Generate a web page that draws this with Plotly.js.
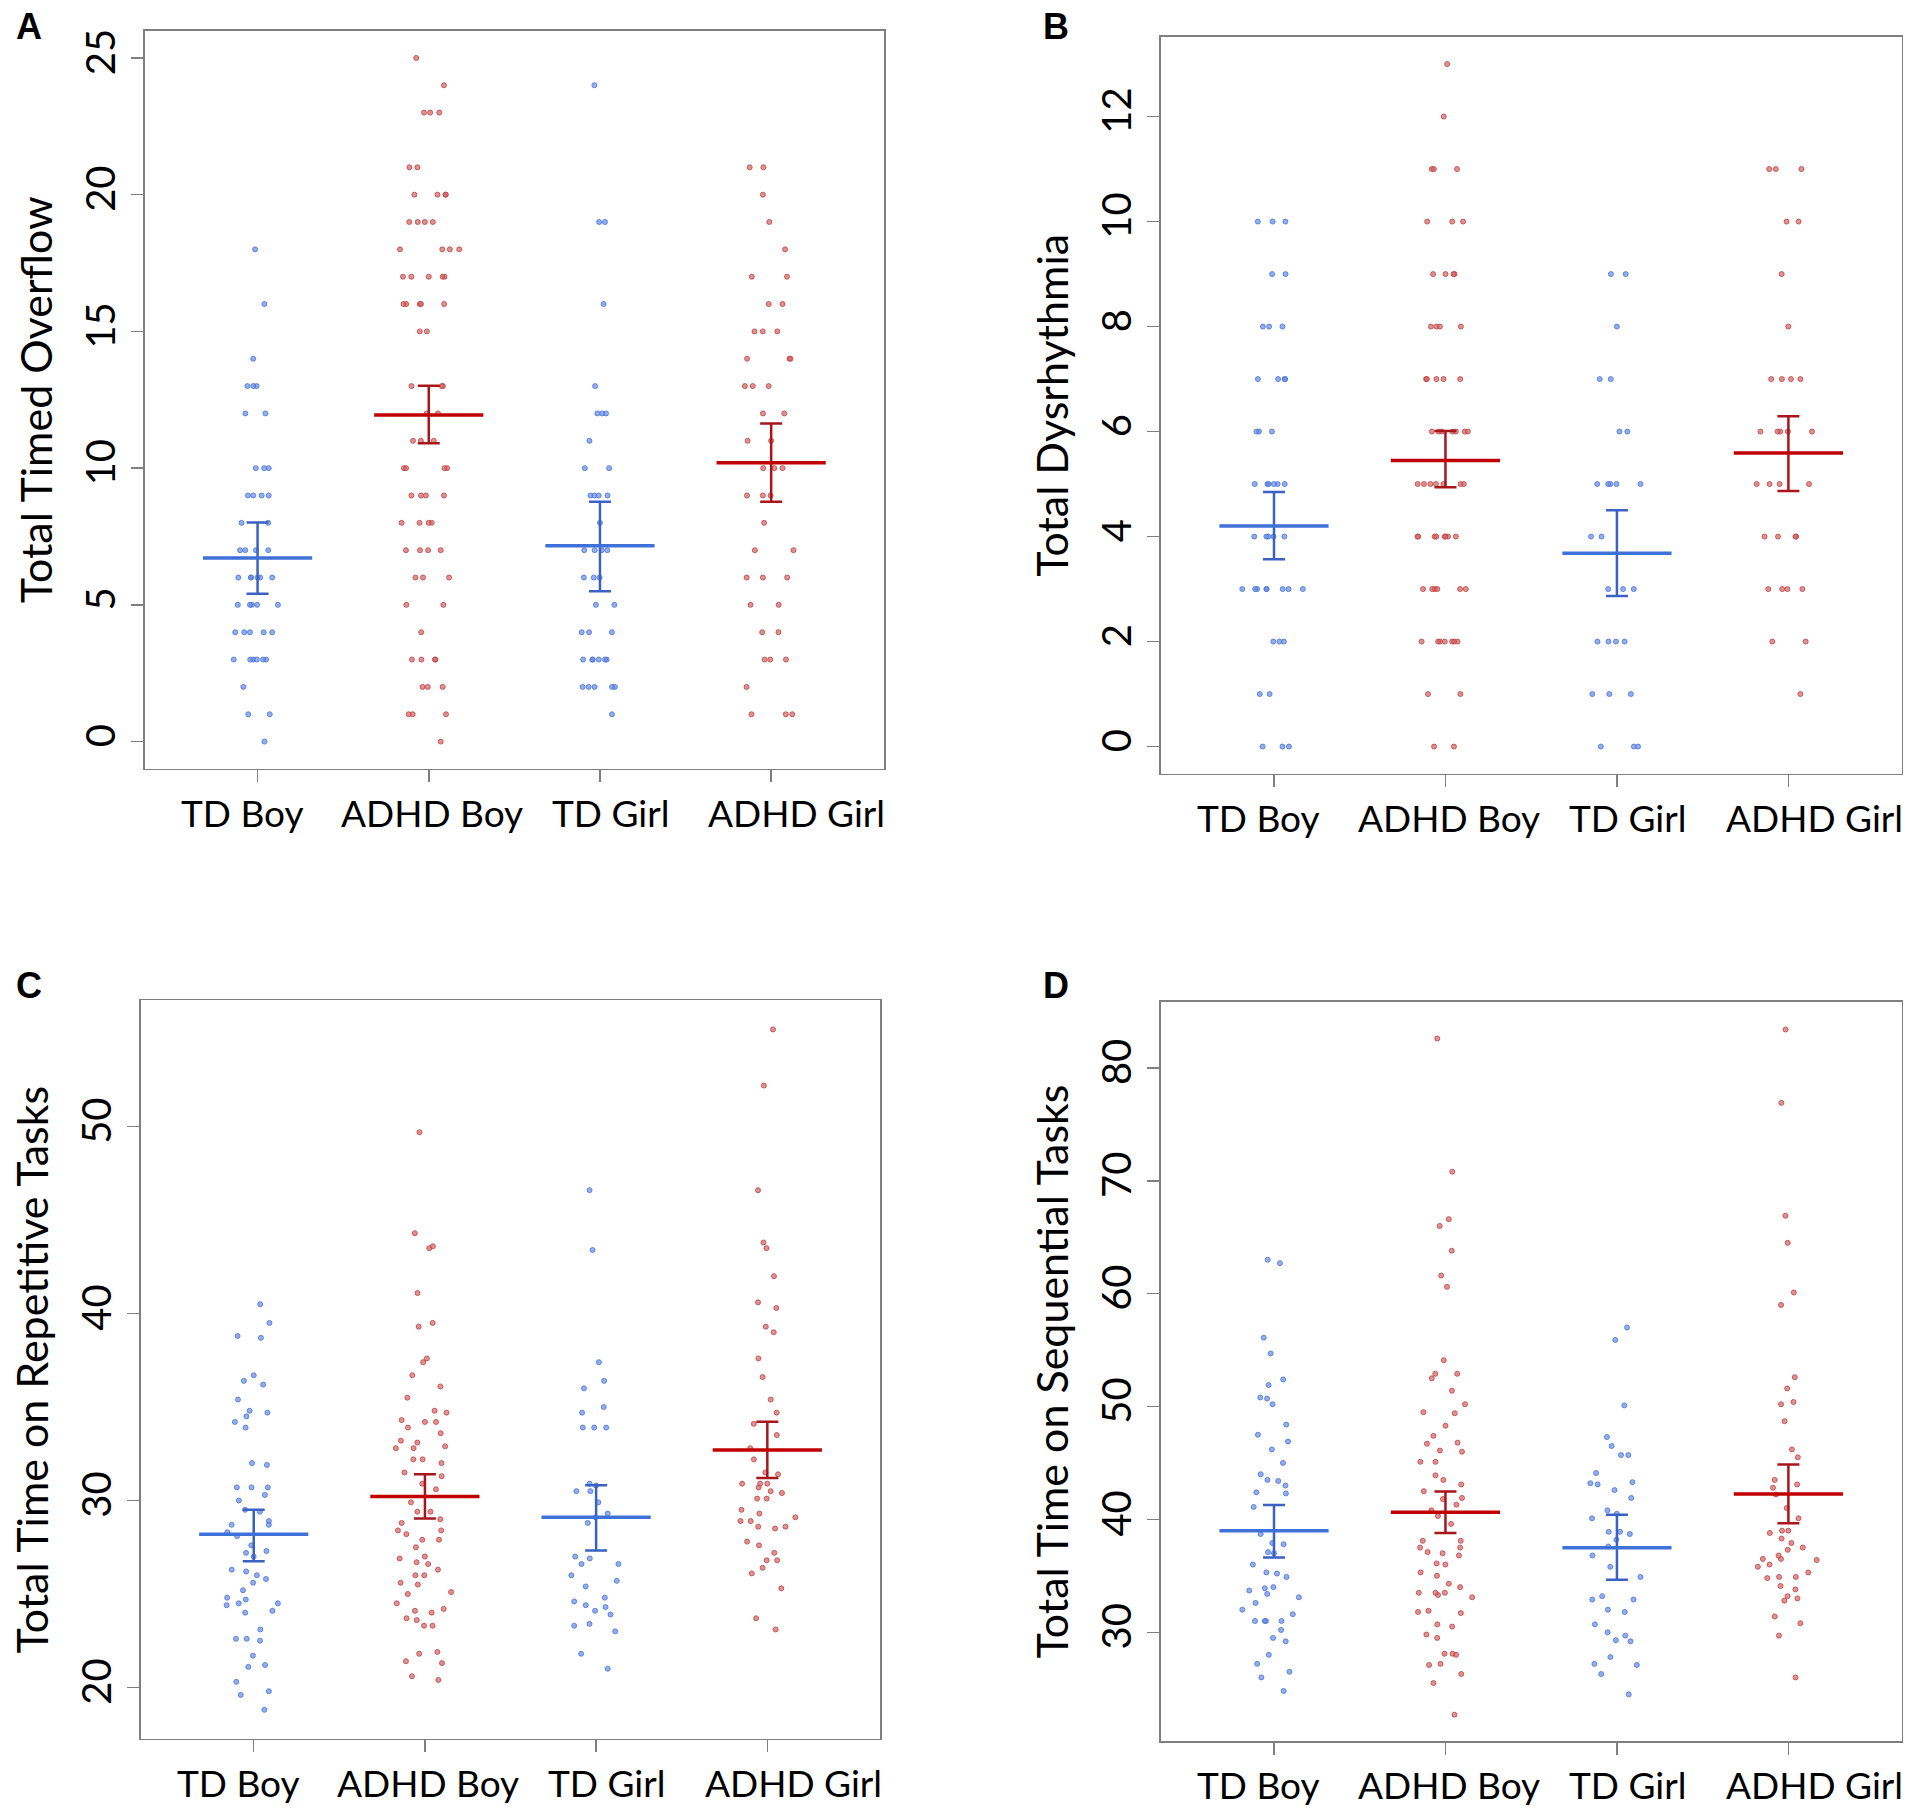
<!DOCTYPE html>
<html><head><meta charset="utf-8">
<script src="https://cdn.plot.ly/plotly-3.0.1.min.js"></script>
<style>html,body{margin:0;padding:0;background:#fff}</style>
</head><body>
<div id="chart" style="width:1920px;height:1820px"></div>
<script>
const groups = ['TD Boy', 'ADHD Boy', 'TD Girl', 'ADHD Girl'];

// Panel A: Total Timed Overflow
const aTdBoy = [18,16,14,13,13,13,12,12,10,10,10,9,9,9,9,8,8,7,7,7,7,6,6,6,6,6,6,5,5,5,5,5,4,4,4,4,4,3,3,3,3,3,3,2,1,1,0];
const aAdhdBoy = [25,24,23,23,23,21,21,20,20,20,20,19,19,19,19,18,18,18,18,17,17,17,17,17,16,16,16,16,16,15,15,13,13,13,12,12,11,11,11,10,10,10,10,9,9,9,9,8,8,8,8,7,7,7,7,6,6,6,5,5,4,3,3,3,3,2,2,2,1,1,1,0];
const aTdGirl = [24,19,19,16,13,12,12,12,11,10,10,9,9,9,9,8,7,7,7,7,6,6,6,5,5,4,4,4,3,3,3,3,3,3,2,2,2,2,2,1];
const aAdhdGirl = [21,21,20,19,18,17,17,16,16,15,15,15,14,14,14,13,13,13,12,12,11,11,10,10,10,9,9,9,8,7,7,6,6,6,5,5,4,4,3,3,3,2,1,1,1];
const meanA = [6.71, 11.94, 7.16, 10.20];
const lowA = [5.41, 10.91, 5.50, 8.77];
const highA = [8.01, 13.01, 8.77, 11.63];

// Panel B: Total Dysrhythmia
const bTdBoy = [10,10,10,9,9,8,8,8,7,7,7,7,6,6,6,5,5,5,5,5,5,4,4,4,4,4,3,3,3,3,3,3,3,3,2,2,2,1,1,0,0,0];
const bAdhdBoy = [13,12,11,11,11,10,10,10,9,9,9,9,8,8,8,8,7,7,7,7,7,6,6,6,6,6,6,6,5,5,5,5,5,5,5,4,4,4,4,4,4,4,4,3,3,3,3,3,3,2,2,2,2,2,2,2,1,1,0,0];
const bTdGirl = [9,9,8,7,7,6,6,5,5,5,5,5,4,4,3,3,3,2,2,2,2,1,1,1,0,0,0];
const bAdhdGirl = [11,11,11,10,10,9,8,7,7,7,7,6,6,6,6,6,5,5,5,5,4,4,4,4,3,3,3,3,2,2,1];
const meanB = [4.20, 5.45, 3.68, 5.59];
const lowB = [3.57, 4.94, 2.87, 4.87];
const highB = [4.85, 6.01, 4.50, 6.29];

// Panel C: Total Time on Repetitive Tasks
const cTdBoy = [40.5,39.5,38.7,38.8,36.7,36.4,36.2,35.4,34.8,34.7,34.5,34.2,33.9,32.0,31.9,30.7,30.7,30.7,30.3,30.0,29.5,29.4,28.9,28.7,28.7,28.3,28.1,27.6,27.3,27.2,27.0,26.3,26.2,26.0,25.8,25.6,25.2,24.8,24.5,24.5,24.7,24.4,24.0,24.1,23.1,22.6,22.6,22.5,21.7,21.2,21.1,20.3,19.8,19.6,18.8];
const cAdhdBoy = [49.7,44.3,43.6,43.5,41.1,39.5,39.3,37.6,37.4,36.7,36.1,35.5,34.8,34.7,34.3,34.2,34.2,33.9,33.6,33.2,33.1,32.9,32.8,32.8,32.2,32.2,32.0,31.5,31.3,30.9,30.6,29.9,29.4,29.4,29.0,28.8,28.4,28.4,28.2,27.9,27.9,27.5,27.0,26.9,26.7,26.6,26.3,26.0,26.0,25.6,25.5,25.1,25.0,24.5,24.2,24.1,24.0,23.7,23.6,23.3,23.3,21.9,21.8,21.4,21.3,20.6,20.4];
const cTdGirl = [46.6,43.4,37.4,36.4,36.0,35.0,34.7,33.9,33.9,33.9,30.9,30.8,30.5,30.5,29.9,29.3,29.1,28.8,27.0,26.9,26.6,26.6,26.0,25.7,25.4,24.8,24.6,24.4,24.3,24.1,23.9,23.4,23.3,23.0,21.8,21.0];
const cAdhdGirl = [55.2,52.2,46.6,43.8,43.5,42.0,40.6,40.3,39.3,39.0,37.6,36.6,35.4,34.7,34.1,33.5,32.8,32.2,31.5,31.4,30.9,30.9,30.9,30.7,30.5,30.4,30.1,30.1,29.5,29.3,29.1,28.9,28.9,28.6,28.6,28.5,27.8,27.6,27.2,26.8,26.8,26.4,26.1,25.3,23.7,23.1];
const meanC = [28.19, 30.22, 29.10, 32.70];
const lowC = [26.75, 29.04, 27.33, 31.20];
const highC = [29.50, 31.40, 30.81, 34.21];

// Panel D: Total Time on Sequential Tasks
const dTdBoy = [63.0,62.7,56.1,54.7,52.4,51.9,50.8,50.7,50.2,48.4,47.5,46.9,46.2,45.0,44.0,43.4,43.0,43.5,42.4,42.3,41.1,38.7,37.9,37.8,37.1,37.0,36.0,35.3,34.9,35.2,34.0,33.7,33.4,33.9,33.1,32.6,32.0,31.6,31.0,31.0,31.0,31.0,30.2,29.5,29.2,28.0,27.2,26.5,26.0,24.8];
const dAdhdBoy = [82.6,70.8,66.6,66.0,63.8,61.6,60.6,54.1,52.9,52.9,52.5,51.4,50.2,49.4,49.5,48.3,47.4,46.8,46.7,46.0,46.1,45.1,45.1,43.9,43.5,43.1,42.5,41.9,41.8,41.3,40.8,40.3,39.6,38.1,38.1,37.5,37.5,37.0,36.8,37.1,36.1,36.0,35.3,35.0,34.3,34.0,33.5,33.5,33.3,33.5,33.1,31.9,31.8,31.7,30.7,30.5,29.8,29.5,28.1,28.0,28.1,27.2,27.1,26.3,25.5,22.7];
const dTdGirl = [57.0,55.9,50.1,47.3,46.5,45.7,45.7,44.1,43.3,43.2,43.1,42.6,41.9,40.8,40.5,40.1,38.9,38.9,38.7,38.2,37.6,36.8,35.8,34.9,33.2,32.9,32.9,32.0,31.8,30.7,30.0,29.7,29.3,29.2,27.8,27.2,27.1,26.3,24.5];
const dAdhdGirl = [83.4,76.9,66.9,64.5,60.1,59.0,52.6,51.6,50.4,50.2,48.7,46.2,45.5,43.5,43.1,42.8,42.2,41.0,40.1,39.0,39.0,38.8,38.3,37.9,37.5,37.3,36.8,36.5,36.5,36.4,36.0,35.8,35.3,34.9,34.9,34.8,34.1,33.8,33.2,33.0,32.8,31.4,30.8,29.7,26.0];
const meanD = [39.00, 40.63, 37.48, 42.26];
const lowD = [36.62, 38.79, 34.66, 39.65];
const highD = [41.28, 42.47, 40.41, 44.86];

const yTitles = ['Total Timed Overflow', 'Total Dysrhythmia', 'Total Time on Repetitive Tasks', 'Total Time on Sequential Tasks'];
const panelLetters = ['A', 'B', 'C', 'D'];

const FONT = 'Lato, "Open Sans", sans-serif';
const AXIS_GRAY = '#7f7f7f';
const ptBlue = 'rgba(100,140,228,0.7)';
const ptBlueLine = 'rgba(75,115,215,0.8)';
const ptRed = 'rgba(208,100,100,0.7)';
const ptRedLine = 'rgba(192,65,65,0.8)';
const meanBlue = '#3f72d8';
const errBlue = '#3a62c4';
const meanRed = '#c00000';
const errRed = '#a8161c';
// where the group names sit under each panel (category index units)
const labelPos = [-0.09, 1.02, 2.06, 3.15];

const panels = [
  {vals:[aTdBoy,aAdhdBoy,aTdGirl,aAdhdGirl], mean:meanA, low:lowA, high:highA,
   xd:[0.0753,0.4605], yd:[0.5775,0.9832], yr:[-1,26], tv:[0,5,10,15,20,25]},
  {vals:[bTdBoy,bAdhdBoy,bTdGirl,bAdhdGirl], mean:meanB, low:lowB, high:highB,
   xd:[0.6046,0.9904], yd:[0.5748,0.9798], yr:[-0.52,13.52], tv:[0,2,4,6,8,10,12]},
  {vals:[cTdBoy,cAdhdBoy,cTdGirl,cAdhdGirl], mean:meanC, low:lowC, high:highC,
   xd:[0.0733,0.4585], yd:[0.0446,0.4503], yr:[17.25,56.75], tv:[20,30,40,50]},
  {vals:[dTdBoy,dAdhdBoy,dTdGirl,dAdhdGirl], mean:meanD, low:lowD, high:highD,
   xd:[0.6046,0.9904], yd:[0.0433,0.4496], yr:[20.35,85.86], tv:[30,40,50,60,70,80]}
];

const data = [];
const layout = {
  width: 1920, height: 1820,
  margin: {l:0, r:0, t:0, b:0},
  paper_bgcolor: '#fff', plot_bgcolor: '#fff',
  showlegend: false,
  boxmode: 'overlay',
  font: {family: FONT, color: '#000'},
  annotations: []
};

const letterPos = [[29,27],[1056,27],[29,986],[1056,986]];

panels.forEach((p, pi) => {
  const suf = pi === 0 ? '' : String(pi + 1);
  const xa = 'x' + suf, ya = 'y' + suf;
  p.vals.forEach((vals, gi) => {
    const isTD = gi % 2 === 0;
    data.push({
      type: 'box', xaxis: xa, yaxis: ya,
      x: vals.map(() => groups[gi]), y: vals,
      boxpoints: 'all', jitter: 1, pointpos: 0, width: 0.38,
      line: {width: 0, color: 'rgba(0,0,0,0)'}, fillcolor: 'rgba(0,0,0,0)', whiskerwidth: 0,
      marker: {size: 5, color: isTD ? ptBlue : ptRed, line: {width: 1, color: isTD ? ptBlueLine : ptRedLine}},
      hoverinfo: 'y', showlegend: false
    });
  });
  [[0,2,meanBlue,errBlue],[1,3,meanRed,errRed]].forEach(([i,j,mc,ec]) => {
    data.push({
      type: 'scatter', mode: 'markers', xaxis: xa, yaxis: ya,
      x: [groups[i], groups[j]], y: [p.mean[i], p.mean[j]],
      marker: {symbol: 'line-ew-open', size: 78, color: mc, line: {width: 3.5, color: mc}},
      error_y: {type: 'data', symmetric: false,
        array: [p.high[i] - p.mean[i], p.high[j] - p.mean[j]],
        arrayminus: [p.mean[i] - p.low[i], p.mean[j] - p.low[j]],
        width: 11, thickness: 2.5, color: ec},
      hoverinfo: 'y', showlegend: false
    });
  });
  layout['xaxis' + suf] = {
    domain: p.xd, anchor: ya, type: 'category', categoryorder: 'array', categoryarray: groups,
    range: [-0.66, 3.66], showline: true, mirror: true, linecolor: AXIS_GRAY, linewidth: 1.5,
    ticks: 'outside', ticklen: 12, tickwidth: 1.5, tickcolor: AXIS_GRAY,
    showgrid: false, zeroline: false, fixedrange: true, showticklabels: false
  };
  layout['yaxis' + suf] = {
    domain: p.yd, anchor: xa, range: p.yr, tickmode: 'array', tickvals: p.tv,
    tickangle: -90, showline: true, mirror: true, linecolor: AXIS_GRAY, linewidth: 1.5,
    ticks: 'outside', ticklen: 12, tickwidth: 1.5, tickcolor: AXIS_GRAY,
    showgrid: false, zeroline: false, fixedrange: true,
    tickfont: {family: FONT, size: 40, color: '#000'},
    title: {text: yTitles[pi], font: {family: FONT, size: 43, color: '#000'}, standoff: 10}
  };
  // group names under each panel
  groups.forEach((g, gi) => {
    layout.annotations.push({
      xref: xa, yref: ya + ' domain', x: labelPos[gi], y: 0,
      xanchor: 'center', yanchor: 'top', yshift: -19, showarrow: false,
      text: g, font: {family: FONT, size: 37, color: '#000'}
    });
  });
  layout.annotations.push({
    xref: 'paper', yref: 'paper', x: letterPos[pi][0] / 1920, y: 1 - letterPos[pi][1] / 1820,
    xanchor: 'center', yanchor: 'middle', showarrow: false, text: '<b>' + panelLetters[pi] + '</b>',
    font: {family: 'Liberation Sans, Arial, sans-serif', size: 36, color: '#000'}
  });
});

Plotly.newPlot('chart', data, layout, {staticPlot: true});
</script>
</body></html>
